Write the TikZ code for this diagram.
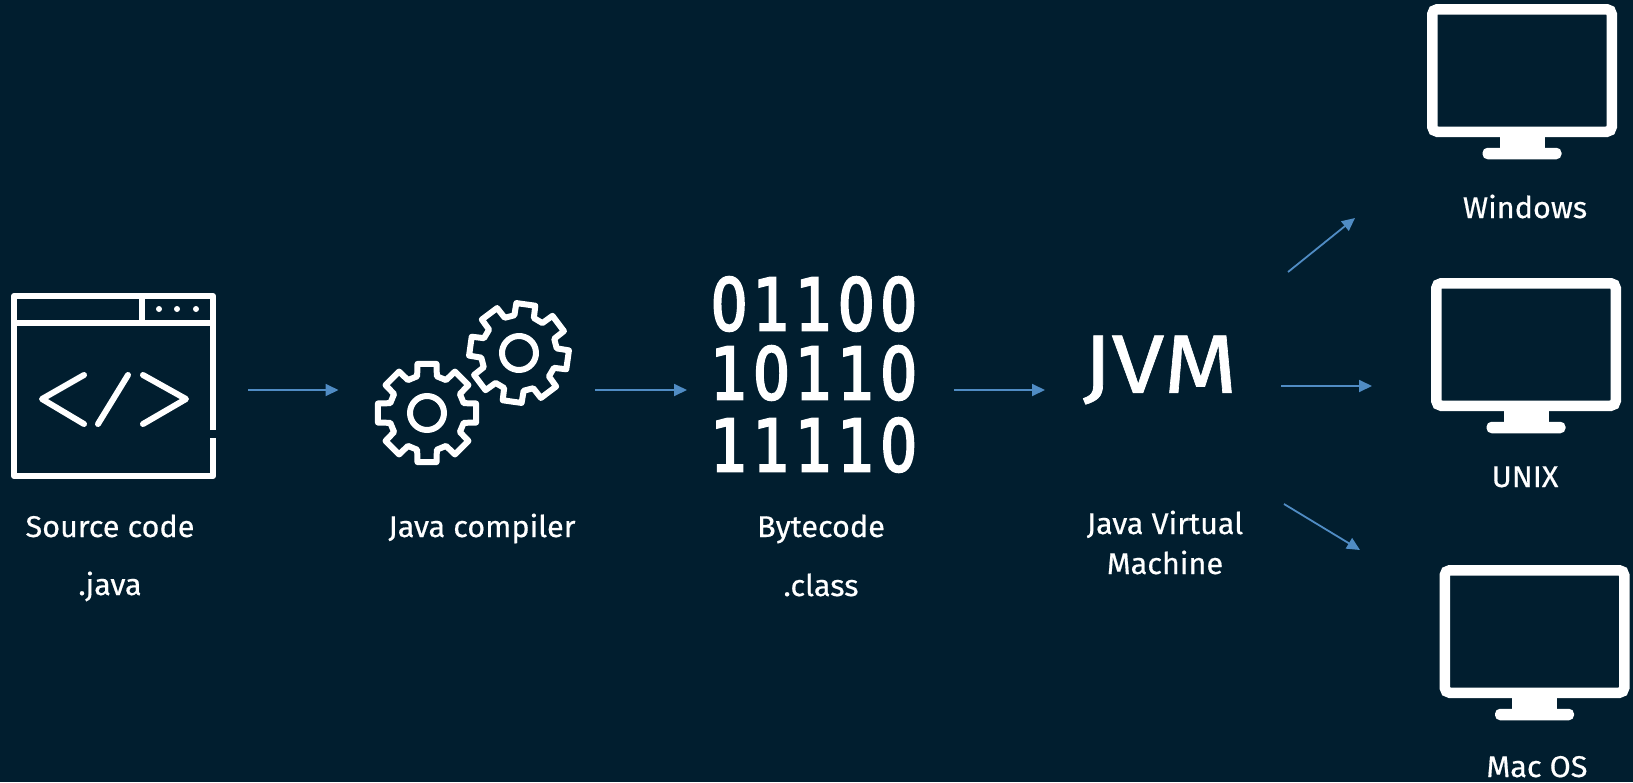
\documentclass[tikz,border=0pt]{standalone}
\usepackage{fontspec}
\setmainfont{Fira Sans}
\newfontfamily\labelfont[FakeBold=0.5,FakeStretch=1.02]{Fira Sans}
\newfontfamily\titlefont[FakeBold=0.8,FakeStretch=1.14]{Fira Sans}
\newfontfamily\bitsfont[FakeBold=3,FakeStretch=0.8,LetterSpace=8]{DejaVu Sans}
\usetikzlibrary{arrows.meta,positioning}
\definecolor{bgnavy}{RGB}{1,30,47}
\definecolor{flowblue}{RGB}{80,140,196}
\tikzset{
	flow/.style={flowblue,line width=1.8pt,-{Triangle[length=13pt,width=12pt]}},
	icon/.style={inner sep=0pt,outer sep=0pt,minimum height=10pt},
	screen/.style={draw=white,line width=10.5pt,rounded corners=5pt,inner sep=0pt,outer sep=0pt,minimum width=179.5pt,minimum height=122.5pt},
	label/.style={white,anchor=base,inner sep=0pt,font=\fontsize{30}{33}\labelfont},
	bits/.style={white,inner sep=0pt,font=\fontsize{72}{80}\bitsfont},
	pics/gear/.style={code={
		\draw[white,line width=6pt,line join=round] (-15:38) \foreach \a in {0,45,...,315}{
			-- ({\a-15}:38) -- ({\a-11}:50) -- ({\a+11}:50) -- ({\a+15}:38)} -- cycle;
		\draw[white,line width=6pt] (0,0) circle (17);
	}}
}
\begin{document}
\begin{tikzpicture}[x=1pt,y=-1pt]
	\fill[bgnavy] (0,0) rectangle (1633,782);
	\useasboundingbox (0,0) rectangle (1633,782);
	% window with the code tags
	\draw[white,line width=6pt,line join=round] (213,430) -- (213,296) -- (14,296) -- (14,476) -- (213,476) -- (213,438);
	\draw[white,line width=6pt] (14,323) -- (213,323);
	\draw[white,line width=6pt] (142,296) -- (142,323);
	\foreach \x in {159,177,196}
		\fill[white] (\x,309) circle (3);
	\draw[white,line width=6pt,line cap=round,line join=round] (84,375) -- (42,399) -- (84,424);
	\draw[white,line width=6pt,line cap=round] (128,375) -- (98,424);
	\draw[white,line width=6pt,line cap=round,line join=round] (143,375) -- (186,399) -- (143,424);
	\node[icon,minimum width=205pt] (source) at (113.5,390) {};
	% gears
	\pic at (427,413) {gear};
	\pic[rotate=-8] at (519,353) {gear};
	\node[icon,minimum width=195pt] (compiler) at (474,390) {};
	% digits
	\node[bits] (bits1) at (814,304) {01100};
	\node[bits] (bits2) at (814,373) {10110};
	\node[bits] (bits3) at (814,445) {11110};
	\node[icon,minimum width=202pt] (bytecode) at (814,390) {};
	\node[white,inner sep=0pt,font=\fontsize{83}{90}\titlefont] (jvm) at (1160,370) {JVM};
	% monitors
	\node[screen] (windows) at (1522,70.5) {};
	\node[screen] (unix) at (1526,344.5) {};
	\node[screen] (macos) at (1534.5,631.5) {};
	\foreach \name in {windows,unix,macos} {
		\fill[white] ([shift={(-22.5,3)}]\name.south) rectangle ([shift={(22.5,24)}]\name.south);
		\fill[white,rounded corners=5pt] ([shift={(-39.5,16)}]\name.south) rectangle ([shift={(39.5,27.5)}]\name.south);
	}
	% labels
	\begin{scope}[every node/.style={label}]
		\node (sourcetext) at (110,537) {Source code};
		\node (sourceext) at (110,595) {.java};
		\node (compilertext) at (482,537) {Java compiler};
		\node (bytetext) at (821,537) {Bytecode};
		\node (byteext) at (821,596) {.class};
		\node (jvmtext1) at (1165,534) {Java Virtual};
		\node (jvmtext2) at (1165,574) {Machine};
		\node (windowstext) at (1525,218) {Windows};
		\node (unixtext) at (1525,487) {UNIX};
		\node (macostext) at (1537,777) {Mac OS};
	\end{scope}
	% connectors
	\draw[flow] ([xshift=32pt]source.east) -- ([xshift=-38pt]compiler.west);
	\draw[flow] ([xshift=23.5pt]compiler.east) -- ([xshift=-26pt]bytecode.west);
	\draw[flow] ([xshift=39pt]bytecode.east) -- ([shift={(-115,20)}]jvm.center);
	\draw[flow] ([shift={(128,-98)}]jvm.center) -- ([shift={(-167,147.5)}]windows.center);
	\draw[flow] ([shift={(121,16)}]jvm.center) -- ([shift={(-154,41.5)}]unix.center);
	\draw[flow] ([shift={(124,134)}]jvm.center) -- ([shift={(-174.5,-81.5)}]macos.center);
\end{tikzpicture}
\end{document}
